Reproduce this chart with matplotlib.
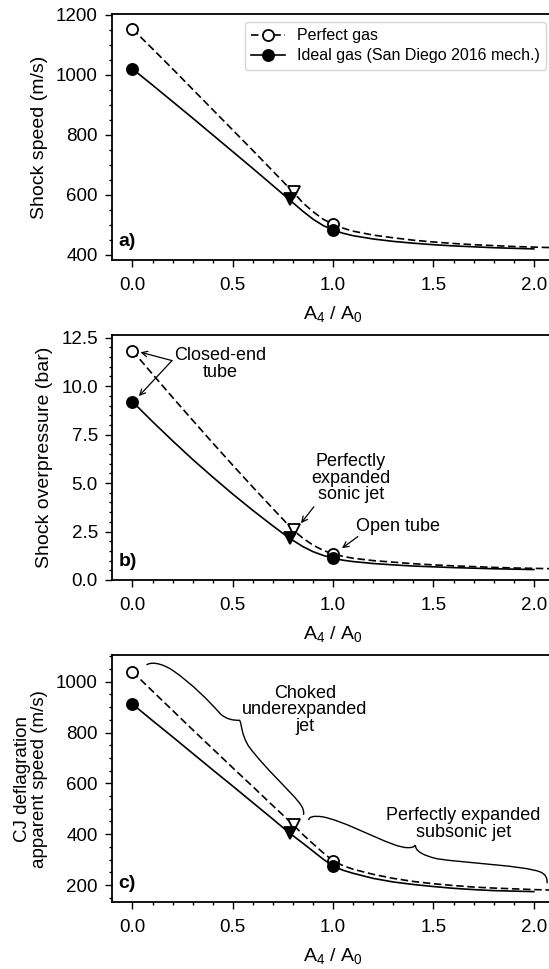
import matplotlib
matplotlib.use("Agg")
import matplotlib.pyplot as plt
from matplotlib.lines import Line2D
from matplotlib.path import Path
from matplotlib.patches import PathPatch

plt.rcParams['font.family'] = ['Liberation Sans', 'DejaVu Sans']

# ---------------- data ----------------
x_perfect = [0.0, 0.1, 0.2, 0.3, 0.4, 0.5, 0.6, 0.7, 0.8, 0.85, 0.9, 0.95, 1.0,
             1.05, 1.1, 1.2, 1.3, 1.4, 1.5, 1.6, 1.7, 1.8, 1.9, 2.0, 2.1]
x_ideal = [0.0, 0.1, 0.2, 0.3, 0.4, 0.5, 0.6, 0.7, 0.78, 0.85, 0.9, 0.95, 1.0,
           1.05, 1.1, 1.2, 1.3, 1.4, 1.5, 1.6, 1.7, 1.8, 1.9, 2.0]

# a) shock speed (m/s)
speed_perfect = [1153, 1087, 1020, 952, 884, 816, 748, 679, 610, 573, 544, 519, 502,
                 489, 479, 466, 457, 449, 443, 438, 434, 431, 428, 426, 424]
speed_ideal = [1020, 966, 911, 856, 800, 744, 688, 631, 585, 545, 519, 498, 483,
               472, 464, 453, 445, 439, 434, 430, 427, 424, 422, 420]

# b) shock overpressure (bar)
press_perfect = [11.83, 10.62, 9.42, 8.24, 7.07, 5.92, 4.79, 3.68, 2.58, 2.15, 1.80, 1.53, 1.34,
                 1.22, 1.12, 1.00, 0.92, 0.84, 0.78, 0.73, 0.69, 0.65, 0.62, 0.60, 0.58]
press_ideal = [9.20, 8.17, 7.18, 6.22, 5.31, 4.43, 3.59, 2.79, 2.17, 1.72, 1.46, 1.27, 1.12,
               1.02, 0.95, 0.85, 0.78, 0.72, 0.68, 0.64, 0.61, 0.58, 0.56, 0.54]

# c) CJ deflagration apparent speed (m/s)
cj_perfect = [1039, 963, 887, 811, 736, 661, 587, 512, 438, 398, 362, 327, 295,
              276, 262, 242, 226, 214, 205, 198, 192, 188, 185, 182, 180]
cj_ideal = [912, 847, 783, 718, 653, 589, 524, 459, 406, 364, 333, 302, 274,
            258, 246, 226, 212, 202, 194, 187, 182, 178, 176, 174]

# special points: closed-end tube (x=0), perfectly expanded sonic jet, open tube (x=1)
x_sonic_perfect = 0.804
x_sonic_ideal = 0.784
sonic_speed = [610, 585]
sonic_press = [2.58, 2.17]
sonic_cj = [438, 405]

xticks = [0.0, 0.5, 1.0, 1.5, 2.0]
panel_names = ['a)', 'b)', 'c)']
ylabels = ['Shock speed (m/s)', 'Shock overpressure (bar)',
           'CJ deflagration\napparent speed (m/s)']
legend_labels = ['Perfect gas', 'Ideal gas (San Diego 2016 mech.)']

# ---------------- figure ----------------
W, H = 549, 969
fig = plt.figure(figsize=(W / 100, H / 100), dpi=100)
left = 112.4 / W
width = 441.5 / W
axes_px = [(14, 260), (335, 580), (655.3, 902.3)]
ylims = [(383, 1203), (0, 12.64), (132, 1104)]
yticks = [[400, 600, 800, 1000, 1200], [0, 2.5, 5.0, 7.5, 10.0, 12.5],
          [200, 400, 600, 800, 1000]]
yminor = [50, 0.5, 50]

series = [(speed_perfect, speed_ideal, sonic_speed),
          (press_perfect, press_ideal, sonic_press),
          (cj_perfect, cj_ideal, sonic_cj)]

ms_c = 8
ms_t = 8.5
lw = 1.2
axes = []
for i, (top, bot) in enumerate(axes_px):
    ax = fig.add_axes([left, 1 - bot / H, width, (bot - top) / H])
    axes.append(ax)
    yp, yi, ys = series[i]
    ax.plot(x_perfect, yp, color='black', lw=lw, ls=(0, (4.5, 2.2)), zorder=2)
    ax.plot(x_ideal, yi, color='black', lw=lw, ls='-', zorder=2)
    # closed-end and open tube points
    ax.plot([x_perfect[0], 1.0], [yp[0], yp[x_perfect.index(1.0)]], ls='none',
            marker='o', ms=ms_c, mfc='white', mec='black', mew=1.3, zorder=4)
    ax.plot([x_ideal[0], 1.0], [yi[0], yi[x_ideal.index(1.0)]], ls='none',
            marker='o', ms=ms_c, mfc='black', mec='black', mew=1.3, zorder=5)
    ax.plot([x_sonic_perfect], [ys[0]], ls='none', marker='v', ms=ms_t,
            mfc='white', mec='black', mew=1.3, zorder=4)
    ax.plot([x_sonic_ideal], [ys[1]], ls='none', marker='v', ms=ms_t,
            mfc='black', mec='black', mew=1.3, zorder=5)

    ax.set_xlim(-0.1, 2.1)
    ax.set_ylim(*ylims[i])
    ax.set_xticks(xticks)
    ax.set_xticklabels([f'{t:.1f}' for t in xticks])
    ax.set_xticks([k / 10 for k in range(0, 21)], minor=True)
    ax.set_yticks(yticks[i])
    if i == 1:
        ax.set_yticklabels([f'{t:.1f}' for t in yticks[i]])
    else:
        ax.set_yticklabels([f'{int(t)}' for t in yticks[i]])
    lo, hi = ylims[i]
    m = yminor[i]
    start = (int(lo / m) + 1) * m
    mins = []
    v = start
    while v <= hi:
        mins.append(v)
        v += m
    ax.set_yticks(mins, minor=True)
    ax.tick_params(which='major', direction='out', length=5, width=1.0,
                   labelsize=13.5, pad=5.5)
    ax.tick_params(axis='x', which='major', pad=7)
    ax.tick_params(which='minor', direction='out', length=2.5, width=1.0)
    ax.tick_params(top=False, right=False, which='both')
    for s in ax.spines.values():
        s.set_linewidth(1.3)
    ax.set_xlabel(r'$\mathregular{A_4}$ / $\mathregular{A_0}$', fontsize=14, labelpad=7.5)
    if i < 2:
        ax.set_ylabel(ylabels[i], fontsize=14, labelpad=6)
    else:
        ax.set_ylabel(ylabels[i], fontsize=13.5, labelpad=6, linespacing=0.95)
    ax.text(0.014, 0.04, panel_names[i], transform=ax.transAxes, fontsize=14,
            fontweight='bold', ha='left', va='bottom')

# legend
ax = axes[0]
h1 = Line2D([], [], color='black', lw=lw, ls=(0, (4.5, 2.2)), marker='o', ms=ms_c,
            mfc='white', mec='black', mew=1.3)
h2 = Line2D([], [], color='black', lw=lw, ls='-', marker='o', ms=ms_c,
            mfc='black', mec='black', mew=1.3)
ax.legend([h1, h2], legend_labels, loc='upper right', fontsize=11.5,
          handlelength=2.1, handletextpad=0.75, labelspacing=0.3,
          borderaxespad=0.5, frameon=True, fancybox=True)

# annotations panel b
ax = axes[1]
arr = dict(arrowstyle='->', color='black', lw=0.9, shrinkA=0, shrinkB=0)
ax.text(0.435, 11.15, 'Closed-end\ntube', fontsize=13, ha='center', va='center',
        linespacing=0.95)
ax.annotate('', xy=(0.04, 11.75), xytext=(0.197, 11.32), arrowprops=arr)
ax.annotate('', xy=(0.032, 9.49), xytext=(0.197, 11.32), arrowprops=arr)
ax.text(1.088, 5.25, 'Perfectly\nexpanded\nsonic jet', fontsize=13, ha='center',
        va='center', linespacing=0.95)
ax.annotate('', xy=(0.84, 2.93), xytext=(0.904, 3.78), arrowprops=arr)
ax.text(1.323, 2.75, 'Open tube', fontsize=13, ha='center', va='center')
ax.annotate('', xy=(1.044, 1.64), xytext=(1.123, 2.24), arrowprops=arr)

# annotations panel c (curly braces)
ax = axes[2]
brace1 = [(0.07, 1066),
          (0.09, 1078), (0.14, 1076), (0.20, 1045),
          (0.30, 990), (0.38, 925), (0.44, 872),
          (0.47, 852), (0.50, 848), (0.534, 848),
          (0.546, 832), (0.54, 795), (0.58, 745),
          (0.66, 660), (0.78, 575), (0.83, 525),
          (0.85, 505), (0.856, 490), (0.852, 476)]
brace2 = [(0.878, 456),
          (0.88, 468), (0.90, 474), (0.95, 468),
          (1.05, 452), (1.18, 395), (1.30, 360),
          (1.36, 342), (1.40, 344), (1.41, 357),
          (1.41, 335), (1.44, 318), (1.52, 303),
          (1.68, 285), (1.95, 276), (2.03, 252),
          (2.058, 244), (2.068, 228), (2.066, 207)]
for pts in (brace1, brace2):
    codes = [Path.MOVETO] + [Path.CURVE4] * (len(pts) - 1)
    ax.add_patch(PathPatch(Path(pts, codes), fill=False, lw=1.0, color='black',
                           zorder=3))
ax.text(0.86, 889, 'Choked\nunderexpanded\njet', fontsize=13, ha='center',
        va='center', linespacing=0.95)
ax.text(1.65, 440, 'Perfectly expanded\nsubsonic jet', fontsize=13, ha='center',
        va='center', linespacing=0.95)

fig.savefig('out.png', dpi=100)
